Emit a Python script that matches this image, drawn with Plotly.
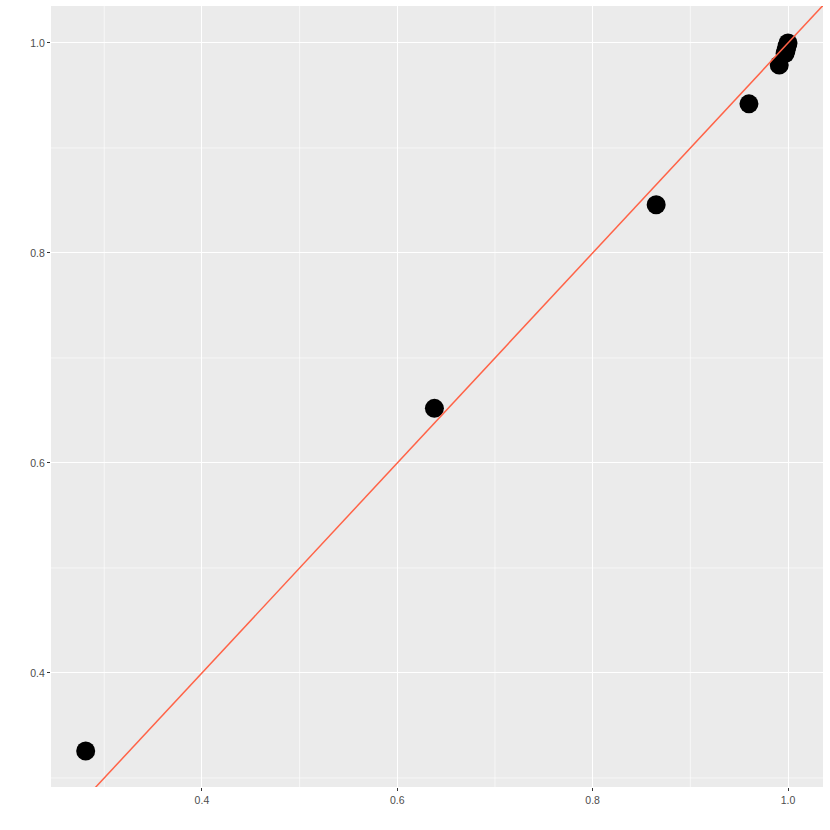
import plotly.graph_objects as go

x_vals = [0.281, 0.638, 0.865, 0.960, 0.991, 0.997, 0.998, 0.999, 1.000]
y_vals = [0.3257, 0.652, 0.846, 0.942, 0.979, 0.990, 0.993, 0.997, 1.000]
ref_line = [0.0, 1.2]
tick_vals = [0.4, 0.6, 0.8, 1.0]
tick_text = ["0.4", "0.6", "0.8", "1.0"]
minor_vals = [0.3, 0.5, 0.7, 0.9]

fig = go.Figure()
fig.add_trace(go.Scatter(x=x_vals, y=y_vals, mode="markers",
                         marker=dict(color="black", size=19, line=dict(width=0)),
                         showlegend=False, cliponaxis=False))
fig.add_trace(go.Scatter(x=ref_line, y=ref_line, mode="lines",
                         line=dict(color="#FF6347", width=1.5), showlegend=False))

xr = [0.2455, 1.0358]
yr = [0.2914, 1.0352]
shapes = []
for v in minor_vals:
    shapes.append(dict(type="line", xref="x", yref="paper", x0=v, x1=v, y0=0, y1=1,
                       line=dict(color="white", width=0.6), layer="below"))
    shapes.append(dict(type="line", xref="paper", yref="y", x0=0, x1=1, y0=v, y1=v,
                       line=dict(color="white", width=0.6), layer="below"))

fig.update_layout(
    width=830, height=830,
    margin=dict(l=51, r=7, t=6, b=43, autoexpand=False),
    paper_bgcolor="white", plot_bgcolor="#EBEBEB",
    shapes=shapes,
    font=dict(family="Liberation Sans, Arial, sans-serif", size=10, color="#4D4D4D"),
)
common = dict(showgrid=True, gridcolor="white", gridwidth=1.2, zeroline=False,
              ticks="outside", ticklen=3, tickcolor="#333333", tickwidth=1,
              showline=False, automargin=False,
              tickfont=dict(size=10.5, color="#4D4D4D"))
fig.update_xaxes(range=xr, tickvals=tick_vals, ticktext=tick_text, **common)
fig.update_yaxes(range=yr, tickvals=tick_vals, ticktext=tick_text, **common)

fig.write_html("out.html", config={"displayModeBar": False},
               post_script="document.body.style.margin='0px';document.body.style.overflow='hidden';")
